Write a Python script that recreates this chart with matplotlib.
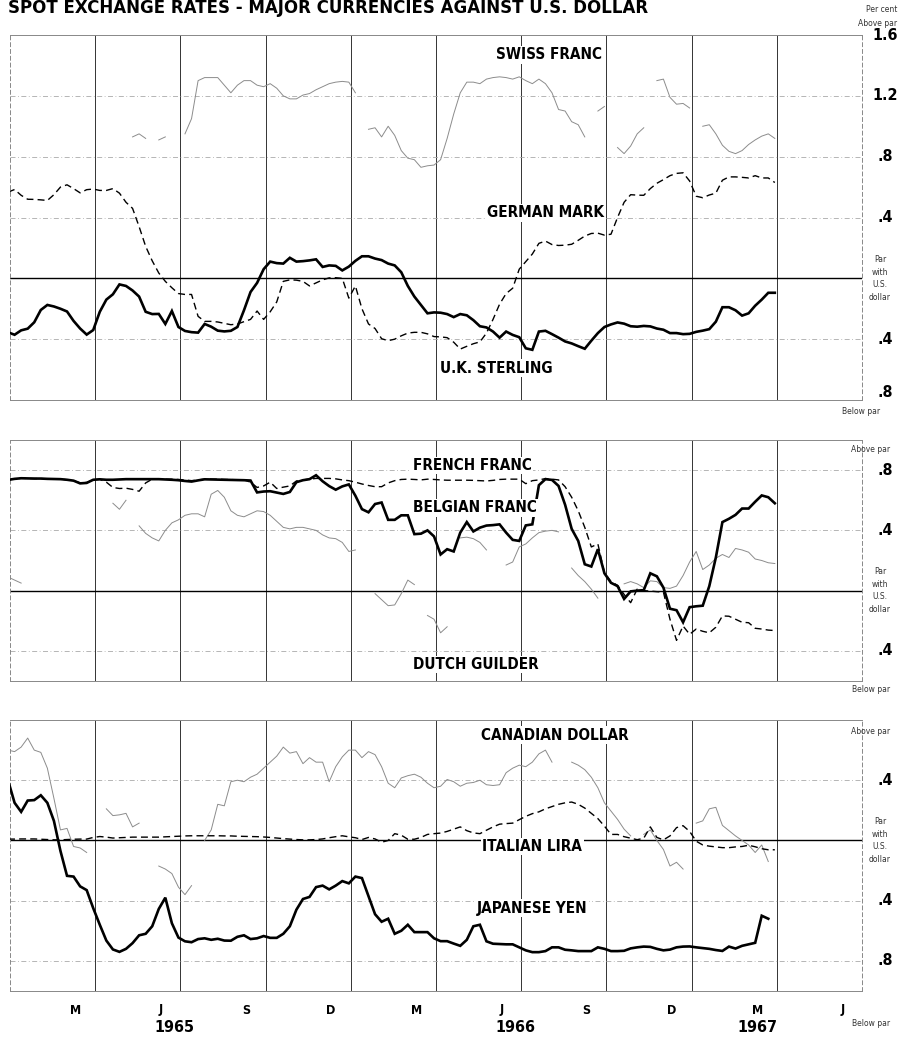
import numpy as np
import matplotlib
matplotlib.use("Agg")
import matplotlib.pyplot as plt
import matplotlib.transforms as mtrans

nan = np.nan

# weekly readings, per cent above (+) / below (-) par with the U.S. dollar
sterling = [-0.355, -0.371, -0.342, -0.331, -0.289, -0.208, -0.175, -0.185, -0.200, -0.218,
            -0.28, -0.33, -0.37, -0.34, -0.22, -0.14, -0.105, -0.04, -0.05, -0.08,
            -0.12, -0.22, -0.235, -0.234, -0.30, -0.215, -0.32, -0.346, -0.354, -0.357,
            -0.30, -0.318, -0.344, -0.349, -0.345, -0.32, -0.21, -0.09, -0.03, 0.06,
            0.11, 0.10, 0.097, 0.135, 0.11, 0.113, 0.118, 0.125, 0.075, 0.085,
            0.082, 0.052, 0.077, 0.115, 0.145, 0.145, 0.13, 0.12, 0.097, 0.085,
            0.04, -0.05, -0.12, -0.175, -0.23, -0.224, -0.226, -0.235, -0.255, -0.235,
            -0.243, -0.275, -0.315, -0.323, -0.35, -0.39, -0.35, -0.372, -0.387, -0.46,
            -0.47, -0.35, -0.345, -0.367, -0.39, -0.415, -0.428, -0.446, -0.463, -0.41,
            -0.36, -0.32, -0.303, -0.29, -0.298, -0.315, -0.318, -0.313, -0.316, -0.33,
            -0.338, -0.36, -0.36, -0.367, -0.365, -0.352, -0.344, -0.334, -0.285, -0.19,
            -0.19, -0.21, -0.245, -0.23, -0.18, -0.14, -0.095, -0.095]

german = [0.567, 0.584, 0.546, 0.52, 0.519, 0.516, 0.512, 0.55, 0.60, 0.615,
          0.59, 0.562, 0.583, 0.587, 0.578, 0.578, 0.59, 0.56, 0.50, 0.46,
          0.34, 0.21, 0.115, 0.035, -0.02, -0.062, -0.10, -0.106, -0.106, -0.25,
          -0.283, -0.283, -0.287, -0.296, -0.305, -0.30, -0.285, -0.27, -0.215, -0.27,
          -0.22, -0.155, -0.02, -0.01, -0.012, -0.02, -0.05, -0.03, -0.01, 0.003,
          0.004, 0.0, -0.13, -0.05, -0.2, -0.30, -0.33, -0.397, -0.41, -0.40,
          -0.378, -0.36, -0.355, -0.355, -0.365, -0.383, -0.385, -0.39, -0.42, -0.465,
          -0.447, -0.43, -0.418, -0.36, -0.27, -0.17, -0.10, -0.065, 0.06, 0.11,
          0.16, 0.23, 0.245, 0.222, 0.216, 0.218, 0.224, 0.25, 0.278, 0.295,
          0.297, 0.284, 0.29, 0.40, 0.50, 0.55, 0.547, 0.546, 0.59, 0.625,
          0.649, 0.675, 0.69, 0.694, 0.64, 0.54, 0.53, 0.548, 0.56, 0.645,
          0.667, 0.667, 0.664, 0.66, 0.675, 0.66, 0.66, 0.63]

swiss = [nan] * 19 + [
    0.93, 0.95, 0.92, nan, 0.91, 0.93, nan, nan, 0.95, 1.05, 1.30,
    1.32, 1.32, 1.32, 1.27, 1.22, 1.27, 1.30, 1.30, 1.27, 1.26,
    1.28, 1.25, 1.20, 1.18, 1.18, 1.205, 1.215, 1.24, 1.26, 1.28,
    1.29, 1.295, 1.29, 1.22, nan, 0.98, 0.99, 0.93, 1.0, 0.94,
    0.84, 0.79, 0.78, 0.73, 0.74, 0.745, 0.78, 0.92, 1.08, 1.22,
    1.29, 1.29, 1.28, 1.31, 1.32, 1.325, 1.32, 1.31, 1.325, 1.30,
    1.28, 1.31, 1.28, 1.22, 1.11, 1.10, 1.03, 1.01, 0.93, nan,
    1.10, 1.13, nan, 0.86, 0.82, 0.87, 0.95, 0.99, nan, 1.30,
    1.31, 1.19, 1.145, 1.15, 1.12, nan, 1.0, 1.01, 0.95, 0.875,
    0.835, 0.82, 0.84, 0.88, 0.91, 0.935, 0.95, 0.92]

belgian = [0.735, 0.742, 0.746, 0.745, 0.744, 0.744, 0.742, 0.741, 0.740, 0.736,
           0.73, 0.712, 0.715, 0.736, 0.739, 0.736, 0.736, 0.738, 0.740, 0.740,
           0.740, 0.740, 0.740, 0.740, 0.738, 0.736, 0.733, 0.728, 0.724, 0.732,
           0.739, 0.738, 0.737, 0.736, 0.735, 0.734, 0.733, 0.731, 0.652, 0.658,
           0.660, 0.651, 0.642, 0.655, 0.72, 0.733, 0.74, 0.766, 0.726, 0.694,
           0.67, 0.692, 0.705, 0.63, 0.541, 0.52, 0.575, 0.585, 0.47, 0.47,
           0.50, 0.50, 0.375, 0.378, 0.40, 0.36, 0.24, 0.275, 0.26, 0.385,
           0.455, 0.393, 0.418, 0.432, 0.435, 0.44, 0.385, 0.337, 0.33, 0.433,
           0.44, 0.70, 0.74, 0.735, 0.695, 0.57, 0.41, 0.33, 0.175, 0.16,
           0.275, 0.115, 0.052, 0.03, -0.055, -0.005, 0.0, 0.003, 0.115, 0.095,
           0.02, -0.12, -0.13, -0.21, -0.11, -0.104, -0.10, 0.03, 0.22, 0.455,
           0.477, 0.503, 0.545, 0.545, 0.59, 0.632, 0.62, 0.58]

french = [0.735, 0.742, 0.746, 0.745, 0.744, 0.744, 0.742, 0.741, 0.740, 0.736,
          0.73, 0.715, 0.718, 0.736, 0.739, 0.72, 0.685, 0.678, 0.68, 0.672,
          0.66, 0.715, 0.74, 0.74, 0.74, 0.74, 0.738, 0.735, 0.73, 0.735,
          0.74, 0.74, 0.74, 0.738, 0.737, 0.736, 0.735, 0.72, 0.685, 0.695,
          0.72, 0.678, 0.687, 0.695, 0.728, 0.735, 0.74, 0.745, 0.745, 0.745,
          0.742, 0.735, 0.73, 0.72, 0.708, 0.698, 0.69, 0.69, 0.715, 0.73,
          0.738, 0.74, 0.738, 0.735, 0.74, 0.738, 0.735, 0.733, 0.733, 0.733,
          0.733, 0.732, 0.73, 0.728, 0.732, 0.738, 0.74, 0.74, 0.74, 0.71,
          0.73, 0.735, 0.744, 0.74, 0.735, 0.69, 0.62, 0.53, 0.42, 0.29,
          0.31, 0.12, 0.06, 0.035, -0.025, -0.08, 0.01, 0.0, -0.003, -0.007,
          -0.01, -0.19, -0.33, -0.235, -0.29, -0.255, -0.27, -0.28, -0.243, -0.168,
          -0.17, -0.19, -0.21, -0.213, -0.25, -0.255, -0.262, -0.265]

dutch = [0.09, 0.07, 0.05] + [nan] * 13 + [
    0.58, 0.54, 0.60, nan,
    0.43, 0.38, 0.35, 0.33, 0.40, 0.45, 0.47, 0.50, 0.51, 0.51,
    0.49, 0.64, 0.665, 0.62, 0.53, 0.50, 0.49, 0.51, 0.53, 0.525,
    0.50, 0.46, 0.42, 0.41, 0.42, 0.42, 0.41, 0.40, 0.37, 0.35,
    0.345, 0.32, 0.26, 0.27, nan, nan, -0.02, -0.06, -0.10, -0.095,
    -0.02, 0.07, 0.04, nan, -0.165, -0.19, -0.28, -0.24, nan, 0.35,
    0.355, 0.345, 0.32, 0.27, nan, nan, 0.17, 0.19, 0.29, 0.31,
    0.35, 0.385, 0.395, 0.40, 0.39, nan, 0.15, 0.10, 0.06, 0.01,
    -0.05, nan, nan, nan, 0.045, 0.06, 0.045, 0.02, 0.065, 0.06,
    0.02, 0.015, 0.03, 0.10, 0.19, 0.26, 0.14, 0.17, 0.215, 0.24,
    0.22, 0.28, 0.27, 0.255, 0.21, 0.20, 0.185, 0.18]

canadian = [0.60, 0.59, 0.62, 0.68, 0.60, 0.585, 0.48, 0.28, 0.07, 0.08,
            -0.04, -0.05, -0.08, nan, nan, 0.21, 0.165, 0.17, 0.18, 0.09,
            0.115, nan, nan, -0.17, -0.19, -0.22, -0.31, -0.36, -0.30, nan,
            0.0, 0.07, 0.24, 0.23, 0.39, 0.40, 0.39, 0.42, 0.44, 0.48,
            0.52, 0.56, 0.62, 0.58, 0.59, 0.51, 0.55, 0.52, 0.52, 0.39,
            0.49, 0.555, 0.60, 0.60, 0.55, 0.59, 0.57, 0.49, 0.38, 0.35,
            0.415, 0.43, 0.44, 0.42, 0.38, 0.35, 0.36, 0.405, 0.39, 0.36,
            0.38, 0.385, 0.40, 0.37, 0.365, 0.37, 0.45, 0.48, 0.50, 0.49,
            0.52, 0.575, 0.60, 0.52, nan, nan, 0.52, 0.50, 0.47, 0.42,
            0.35, 0.25, 0.195, 0.14, 0.075, 0.03, nan, 0.04, 0.07, 0.0,
            -0.06, -0.17, -0.145, -0.19, nan, 0.115, 0.13, 0.21, 0.22, 0.10,
            0.065, 0.03, 0.0, -0.03, -0.08, -0.03, -0.14, nan]

lira = [0.009, 0.009, 0.01, 0.01, 0.01, 0.008, 0.006, 0.004, 0.004, 0.006,
        0.008, 0.009, 0.009, 0.02, 0.026, 0.022, 0.016, 0.018, 0.02, 0.022,
        0.022, 0.022, 0.022, 0.022, 0.024, 0.026, 0.028, 0.03, 0.031, 0.031,
        0.031, 0.031, 0.031, 0.03, 0.03, 0.028, 0.027, 0.026, 0.025, 0.023,
        0.02, 0.016, 0.012, 0.009, 0.006, 0.004, 0.004, 0.006, 0.01, 0.018,
        0.025, 0.031, 0.024, 0.018, 0.006, 0.02, 0.01, -0.012, 0.0, 0.045,
        0.035, 0.008, 0.008, 0.02, 0.04, 0.045, 0.049, 0.06, 0.075, 0.09,
        0.065, 0.05, 0.045, 0.068, 0.09, 0.108, 0.112, 0.115, 0.138, 0.16,
        0.178, 0.19, 0.21, 0.225, 0.24, 0.25, 0.255, 0.24, 0.215, 0.18,
        0.145, 0.095, 0.04, 0.04, 0.025, 0.015, 0.005, 0.015, 0.09, 0.02,
        0.004, 0.03, 0.085, 0.098, 0.06, -0.005, -0.03, -0.038, -0.043, -0.048,
        -0.048, -0.043, -0.04, -0.032, -0.042, -0.055, -0.062, -0.062]

yen = [0.40, 0.25, 0.19, 0.265, 0.268, 0.30, 0.25, 0.13, -0.07, -0.235,
       -0.24, -0.305, -0.33, -0.45, -0.56, -0.665, -0.724, -0.74, -0.72, -0.682,
       -0.63, -0.62, -0.57, -0.455, -0.38, -0.55, -0.645, -0.67, -0.676, -0.655,
       -0.65, -0.66, -0.653, -0.665, -0.666, -0.64, -0.63, -0.655, -0.65, -0.635,
       -0.647, -0.647, -0.62, -0.57, -0.46, -0.389, -0.375, -0.31, -0.30, -0.325,
       -0.30, -0.27, -0.285, -0.24, -0.25, -0.37, -0.49, -0.54, -0.52, -0.62,
       -0.60, -0.56, -0.609, -0.609, -0.609, -0.65, -0.669, -0.669, -0.685, -0.70,
       -0.66, -0.57, -0.56, -0.67, -0.686, -0.688, -0.69, -0.69, -0.71, -0.73,
       -0.742, -0.742, -0.735, -0.71, -0.71, -0.726, -0.73, -0.735, -0.735, -0.735,
       -0.71, -0.72, -0.735, -0.735, -0.733, -0.717, -0.71, -0.705, -0.707, -0.72,
       -0.73, -0.725, -0.71, -0.705, -0.704, -0.71, -0.715, -0.72, -0.728, -0.734,
       -0.705, -0.718, -0.70, -0.69, -0.68, -0.50, -0.52, nan]

months = ["M", "J", "S", "D", "M", "J", "S", "D", "M", "J"]
years = ["1965", "1966", "1967"]

weeks = np.arange(len(sterling))

W, H = 899, 1037
fig = plt.figure(figsize=(W / 100, H / 100), dpi=100)
fig.patch.set_facecolor("white")

NARROW = ["DejaVu Sans"]
XLIM = (0.3, 130.3)
grid_x = np.arange(13.3, 120, 13)


def px_axes(left, top, right, bottom):
    return fig.add_axes([left / W, 1 - bottom / H, (right - left) / W, (bottom - top) / H])


def style_panel(ax, ylo, yhi, grid_y):
    ax.set_xlim(*XLIM)
    ax.set_ylim(ylo, yhi)
    ax.set_xticks([])
    ax.set_yticks([])
    for g in grid_x:
        ax.axvline(g, color="#333333", lw=0.7, zorder=1)
    for g in grid_y:
        ax.axhline(g, color="#aaaaaa", lw=0.6, ls=(0, (6, 3, 1, 3)), zorder=1)
    ax.axhline(0, color="black", lw=1.0, zorder=1)
    for s in ax.spines.values():
        s.set_color("#888888")
        s.set_linewidth(0.7)
    ax.spines["right"].set_linestyle((0, (4, 3)))
    ax.spines["left"].set_linestyle((0, (4, 3)))


def thick(ax, y):
    ax.plot(weeks, y, color="black", lw=1.9, solid_joinstyle="miter", zorder=4)


def dashed(ax, y):
    ax.plot(weeks, y, color="black", lw=1.0, ls=(0, (5, 3)), zorder=3)


def thin(ax, y):
    ax.plot(weeks, y, color="#8c8c8c", lw=0.7, zorder=2)


def right_labels(ax, labels):
    tr = mtrans.blended_transform_factory(ax.transAxes, ax.transData)
    for val, txt, va in labels:
        ax.text(1.027, val, txt, transform=tr, ha="center", va=va, fontsize=11.5,
                fontweight="bold", family=NARROW, fontstretch="condensed", clip_on=False)
    ax.text(1.021, 0, "Par\nwith\nU.S.\ndollar", transform=tr, ha="center",
            va="center", fontsize=5.5, linespacing=1.5, color="#333333", clip_on=False)


def name(ax, x, y, txt):
    ax.text(x, y, txt, ha="center", va="center", fontsize=11,
            fontweight="bold", family=NARROW, fontstretch="condensed", zorder=5,
            bbox=dict(facecolor="white", edgecolor="none", pad=1))


def small(x, y, txt, ha="right"):
    fig.text(x / W, 1 - y / H, txt, ha=ha, va="center", fontsize=5.5, color="#333333")


# panel 1: Swiss franc, German mark, U.K. sterling
ax1 = px_axes(10, 35, 862, 400)
style_panel(ax1, -0.8, 1.6, [1.2, 0.8, 0.4, -0.4])
thin(ax1, swiss)
dashed(ax1, german)
thick(ax1, sterling)
name(ax1, 82.5, 1.47, "SWISS FRANC")
name(ax1, 82.0, 0.43, "GERMAN MARK")
name(ax1, 74.5, -0.59, "U.K. STERLING")
right_labels(ax1, [(1.6, "1.6", "center"), (1.2, "1.2", "center"), (0.8, ".8", "center"),
                   (0.4, ".4", "center"), (-0.4, ".4", "center"), (-0.8, ".8", "bottom")])
small(897, 10, "Per cent")
small(897, 23, "Above par")
small(880, 411, "Below par")

# panel 2: French franc, Belgian franc, Dutch guilder
ax2 = px_axes(10, 440, 862, 681)
style_panel(ax2, -0.6, 1.0, [0.8, 0.4, -0.4])
thin(ax2, dutch)
dashed(ax2, french)
thick(ax2, belgian)
name(ax2, 70.8, 0.83, "FRENCH FRANC")
name(ax2, 71.2, 0.55, "BELGIAN FRANC")
name(ax2, 71.3, -0.49, "DUTCH GUILDER")
right_labels(ax2, [(0.8, ".8", "center"), (0.4, ".4", "center"), (-0.4, ".4", "center")])
small(890, 450, "Above par")
small(890, 690, "Below par")

# panel 3: Canadian dollar, Italian lira, Japanese yen
ax3 = px_axes(10, 720, 862, 991)
style_panel(ax3, -1.0, 0.8, [0.4, -0.4, -0.8])
thin(ax3, canadian)
dashed(ax3, lira)
thick(ax3, yen)
name(ax3, 83.5, 0.70, "CANADIAN DOLLAR")
name(ax3, 80.0, -0.04, "ITALIAN LIRA")
name(ax3, 80.0, -0.45, "JAPANESE YEN")
right_labels(ax3, [(0.4, ".4", "center"), (-0.4, ".4", "center"), (-0.8, ".8", "center")])
small(890, 731, "Above par")
small(890, 1023, "Below par")

# month and year labels under the bottom panel
trb = mtrans.blended_transform_factory(ax3.transData, fig.transFigure)
for k, m in enumerate(months):
    ax3.text(10.3 + 13 * k, 1 - 1010 / H, m, transform=trb, ha="center", va="center",
             fontsize=9, fontweight="bold", family=NARROW, fontstretch="condensed",
             clip_on=False)
for xpos, yr in zip([25.4, 77.4, 114.3], years):
    ax3.text(xpos, 1 - 1027 / H, yr, transform=trb, ha="center", va="center",
             fontsize=11.5, fontweight="bold", family=NARROW, fontstretch="condensed",
             clip_on=False)

fig.text(8 / W, 1 - 8 / H, "SPOT EXCHANGE RATES - MAJOR CURRENCIES AGAINST U.S. DOLLAR",
         ha="left", va="center", fontsize=12, fontweight="bold")

fig.savefig("out.png", dpi=100, facecolor="white")
